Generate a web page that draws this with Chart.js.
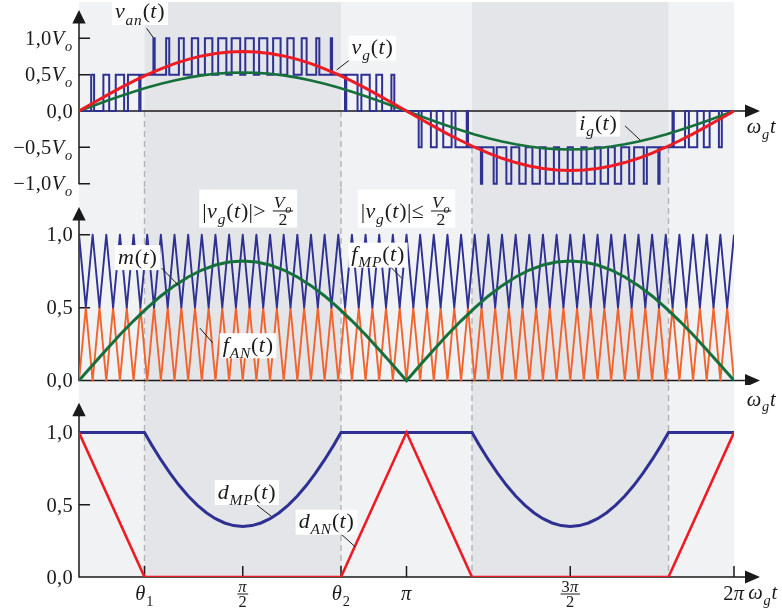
<!DOCTYPE html>
<html>
<head>
<meta charset="utf-8">
<script src="https://cdn.jsdelivr.net/npm/chart.js@4.4.0/dist/chart.umd.min.js"></script>
<style>
  html, body { margin: 0; padding: 0; background: #fff; }
  #wrap { position: relative; width: 782px; height: 614px; overflow: hidden; }
  #wrap canvas { position: absolute; left: 0; }
  #ink { z-index: 2; pointer-events: none; }
</style>
</head>
<body>
<div id="wrap">
  <canvas id="top" width="782" height="188" style="top:0"></canvas>
  <canvas id="mid" width="782" height="197" style="top:188px"></canvas>
  <canvas id="bot" width="782" height="229" style="top:385px"></canvas>
  <canvas id="ink" width="782" height="614" style="top:0"></canvas>
</div>
<script>
// angles in degrees of wg*t (0 .. 360)

// grid for smooth curves
const angle = [0, 7.5, 15, 22.5, 30, 37.5, 45, 52.5, 60, 67.5, 75, 82.5, 90, 97.5, 105, 112.5,
  120, 127.5, 135, 142.5, 150, 157.5, 165, 172.5, 180, 187.5, 195, 202.5, 210, 217.5, 225, 232.5,
  240, 247.5, 255, 262.5, 270, 277.5, 285, 292.5, 300, 307.5, 315, 322.5, 330, 337.5, 345, 352.5, 360];

// v_g(t) / Vo
const vg = [0, 0.107, 0.212, 0.314, 0.41, 0.499, 0.58, 0.651, 0.71, 0.758, 0.792, 0.813, 0.82,
  0.813, 0.792, 0.758, 0.71, 0.651, 0.58, 0.499, 0.41, 0.314, 0.212, 0.107, 0,
  -0.107, -0.212, -0.314, -0.41, -0.499, -0.58, -0.651, -0.71, -0.758, -0.792, -0.813, -0.82,
  -0.813, -0.792, -0.758, -0.71, -0.651, -0.58, -0.499, -0.41, -0.314, -0.212, -0.107, 0];

// i_g(t)
const ig = [0, 0.069, 0.137, 0.203, 0.265, 0.323, 0.375, 0.42, 0.459, 0.49, 0.512, 0.525, 0.53,
  0.525, 0.512, 0.49, 0.459, 0.42, 0.375, 0.323, 0.265, 0.203, 0.137, 0.069, 0,
  -0.069, -0.137, -0.203, -0.265, -0.323, -0.375, -0.42, -0.459, -0.49, -0.512, -0.525, -0.53,
  -0.525, -0.512, -0.49, -0.459, -0.42, -0.375, -0.323, -0.265, -0.203, -0.137, -0.069, 0];

// m(t)
const mt = [0, 0.107, 0.212, 0.314, 0.41, 0.499, 0.58, 0.651, 0.71, 0.758, 0.792, 0.813, 0.82,
  0.813, 0.792, 0.758, 0.71, 0.651, 0.58, 0.499, 0.41, 0.314, 0.212, 0.107, 0,
  0.107, 0.212, 0.314, 0.41, 0.499, 0.58, 0.651, 0.71, 0.758, 0.792, 0.813, 0.82,
  0.813, 0.792, 0.758, 0.71, 0.651, 0.58, 0.499, 0.41, 0.314, 0.212, 0.107, 0];

// carrier vertices
const carrierAngle = [
  0, 3.75, 7.5, 11.25, 15, 18.75, 22.5, 26.25, 30, 33.75, 37.5, 41.25, 45, 48.75, 52.5, 56.25,
  60, 63.75, 67.5, 71.25, 75, 78.75, 82.5, 86.25, 90, 93.75, 97.5, 101.25, 105, 108.75, 112.5, 116.25,
  120, 123.75, 127.5, 131.25, 135, 138.75, 142.5, 146.25, 150, 153.75, 157.5, 161.25, 165, 168.75, 172.5, 176.25,
  180, 183.75, 187.5, 191.25, 195, 198.75, 202.5, 206.25, 210, 213.75, 217.5, 221.25, 225, 228.75, 232.5, 236.25,
  240, 243.75, 247.5, 251.25, 255, 258.75, 262.5, 266.25, 270, 273.75, 277.5, 281.25, 285, 288.75, 292.5, 296.25,
  300, 303.75, 307.5, 311.25, 315, 318.75, 322.5, 326.25, 330, 333.75, 337.5, 341.25, 345, 348.75, 352.5, 356.25,
  360];
const fMP = [
  1, 0.5, 1, 0.5, 1, 0.5, 1, 0.5, 1, 0.5, 1, 0.5, 1, 0.5, 1, 0.5,
  1, 0.5, 1, 0.5, 1, 0.5, 1, 0.5, 1, 0.5, 1, 0.5, 1, 0.5, 1, 0.5,
  1, 0.5, 1, 0.5, 1, 0.5, 1, 0.5, 1, 0.5, 1, 0.5, 1, 0.5, 1, 0.5,
  1, 0.5, 1, 0.5, 1, 0.5, 1, 0.5, 1, 0.5, 1, 0.5, 1, 0.5, 1, 0.5,
  1, 0.5, 1, 0.5, 1, 0.5, 1, 0.5, 1, 0.5, 1, 0.5, 1, 0.5, 1, 0.5,
  1, 0.5, 1, 0.5, 1, 0.5, 1, 0.5, 1, 0.5, 1, 0.5, 1, 0.5, 1, 0.5,
  1];
const fAN = [
  0, 0.5, 0, 0.5, 0, 0.5, 0, 0.5, 0, 0.5, 0, 0.5, 0, 0.5, 0, 0.5,
  0, 0.5, 0, 0.5, 0, 0.5, 0, 0.5, 0, 0.5, 0, 0.5, 0, 0.5, 0, 0.5,
  0, 0.5, 0, 0.5, 0, 0.5, 0, 0.5, 0, 0.5, 0, 0.5, 0, 0.5, 0, 0.5,
  0, 0.5, 0, 0.5, 0, 0.5, 0, 0.5, 0, 0.5, 0, 0.5, 0, 0.5, 0, 0.5,
  0, 0.5, 0, 0.5, 0, 0.5, 0, 0.5, 0, 0.5, 0, 0.5, 0, 0.5, 0, 0.5,
  0, 0.5, 0, 0.5, 0, 0.5, 0, 0.5, 0, 0.5, 0, 0.5, 0, 0.5, 0, 0.5,
  0];

// v_an(t): switching instants and the level after each one
const vanAngle = [
  0, 6.7, 8.3, 13.4, 16.6, 20.2, 24.8, 26.9, 33.1, 33.8,
  40.9, 41.6, 47.9, 49.6, 54.9, 57.6, 62.0, 65.5, 69.2, 73.3,
  76.5, 81.0, 83.9, 88.6, 91.4, 96.1, 99.0, 103.5, 106.7, 110.8,
  114.5, 118.0, 122.4, 125.1, 130.4, 132.1, 138.4, 139.1, 146.2, 146.9,
  153.1, 155.2, 159.8, 163.4, 166.6, 171.7, 173.3,
  186.7, 188.3, 193.4, 196.6, 200.2, 204.8, 206.9, 213.1, 213.8,
  220.9, 221.6, 227.9, 229.6, 234.9, 237.6, 242.0, 245.5, 249.2, 253.3,
  256.5, 261.0, 263.9, 268.6, 271.4, 276.1, 279.0, 283.5, 286.7, 290.8,
  294.5, 298.0, 302.4, 305.1, 310.4, 312.1, 318.4, 319.1, 326.2, 326.9,
  333.1, 335.2, 339.8, 343.4, 346.6, 351.7, 353.3, 360];
const vanLevel = [
  0, 0.5, 0, 0.5, 0, 0.5, 0, 0.5, 0, 0.5,
  1, 0.5, 1, 0.5, 1, 0.5, 1, 0.5, 1, 0.5,
  1, 0.5, 1, 0.5, 1, 0.5, 1, 0.5, 1, 0.5,
  1, 0.5, 1, 0.5, 1, 0.5, 1, 0.5, 0, 0.5,
  0, 0.5, 0, 0.5, 0, 0.5, 0,
  -0.5, 0, -0.5, 0, -0.5, 0, -0.5, 0, -0.5,
  -1, -0.5, -1, -0.5, -1, -0.5, -1, -0.5, -1, -0.5,
  -1, -0.5, -1, -0.5, -1, -0.5, -1, -0.5, -1, -0.5,
  -1, -0.5, -1, -0.5, -1, -0.5, -1, -0.5, 0, -0.5,
  0, -0.5, 0, -0.5, 0, -0.5, 0, 0];

// duty cycles
const dMpAngle = [0, 36, 40, 45, 50, 55, 60, 65, 70, 75, 80, 85, 90, 95, 100, 105, 110, 115, 120, 125, 130, 135, 140, 144,
  216, 220, 225, 230, 235, 240, 245, 250, 255, 260, 265, 270, 275, 280, 285, 290, 295, 300, 305, 310, 315, 320, 324, 360];
const dMP = [1, 1, 0.913, 0.812, 0.719, 0.635, 0.561, 0.498, 0.445, 0.404, 0.374, 0.356, 0.35, 0.356, 0.374, 0.404, 0.445, 0.498, 0.561, 0.635, 0.719, 0.812, 0.913, 1,
  1, 0.913, 0.812, 0.719, 0.635, 0.561, 0.498, 0.445, 0.404, 0.374, 0.356, 0.35, 0.356, 0.374, 0.404, 0.445, 0.498, 0.561, 0.635, 0.719, 0.812, 0.913, 1, 1];
const dAnAngle = [0, 36, 144, 180, 216, 324, 360];
const dAN = [1, 0, 0, 1, 0, 0, 1];

// shaded intervals |vg| > Vo/2 and their borders
const shadeFrom = [36, 216];
const shadeTo = [144, 324];
const dashAt = [36, 144, 216, 324];

// ticks
const xTicks = [36, 90, 144, 180, 270, 360];
const xTickLabels = ['θ_1', 'π/2', 'θ_2', 'π', '3π/2', '2π'];
const yTicksTop = [1, 0.5, 0, -0.5, -1];
const yTickLabelsTop = ['1,0V_o', '0,5V_o', '0,0', '−0,5V_o', '−1,0V_o'];
const yTicksLow = [1, 0.5, 0];
const yTickLabelsLow = ['1,0', '0,5', '0,0'];

const NAVY = '#2e3192', RED = '#ed1c24', GREEN = '#16703b', ORANGE = '#f2642e';
const BG_LIGHT = '#f1f2f4', BG_DARK = '#e4e5e8', DASH = '#b3b4b8', INK = '#1a1a1a';
const FONT = '"Liberation Serif", "Times New Roman", serif';
const TICK_SIZE = 20.5, NOTE_SIZE = 22, FRAC = 0.8;

const ink = document.getElementById('ink').getContext('2d');

/* ---- tiny math-text helpers ---- */
function tokenize(src) {
    const out = [];
    for (let i = 0; i < src.length; i++) {
        const ch = src[i];
        if (ch === '_') {
            let s;
            if (src[i + 1] === '{') { const k = src.indexOf('}', i); s = src.slice(i + 2, k); i = k; }
            else { s = src[i + 1]; i += 1; }
            for (const c of s) out.push({ c, sub: true });
        } else out.push({ c: ch, sub: false });
    }
    return out;
}
const isItalic = c => /[A-Za-z\u03b1-\u03c9]/.test(c);
function setFont(ctx, c, sub, size) {
    ctx.font = (isItalic(c) ? 'italic ' : '') + (sub ? size * 0.7 : size) + 'px ' + FONT;
}
function advance(ctx, t, size) {
    return ctx.measureText(t.c).width + (isItalic(t.c) ? size * 0.04 : size * 0.015);
}
function textWidth(ctx, src, size) {
    let w = 0;
    for (const t of tokenize(src)) { setFont(ctx, t.c, t.sub, size); w += advance(ctx, t, size); }
    return w;
}
function drawText(ctx, src, x, base, size) {
    ctx.textAlign = 'left';
    ctx.textBaseline = 'alphabetic';
    for (const t of tokenize(src)) {
        setFont(ctx, t.c, t.sub, size);
        ctx.fillText(t.c, x, base + (t.sub ? size * 0.28 : 0));
        x += advance(ctx, t, size);
    }
    return x;
}
function fracWidth(ctx, f, size) {
    const fs = size * FRAC;
    return Math.max(textWidth(ctx, f.num, fs), textWidth(ctx, f.den, fs)) + 4;
}
function drawFrac(ctx, f, x, barY, size) {
    const fs = size * FRAC, w = fracWidth(ctx, f, size);
    drawText(ctx, f.num, x + (w - textWidth(ctx, f.num, fs)) / 2, barY - 2.5, fs);
    drawText(ctx, f.den, x + (w - textWidth(ctx, f.den, fs)) / 2, barY + fs * 0.7 + 1.5, fs);
    ctx.fillRect(x + 1, barY - 0.5, w - 2, 1);
    return x + w;
}
function segsWidth(ctx, segs, size) {
    let w = 0;
    for (const s of segs) w += typeof s === 'string' ? textWidth(ctx, s, size) : fracWidth(ctx, s, size);
    return w;
}
function drawSegs(ctx, segs, x, base, size) {
    for (const s of segs) {
        x = typeof s === 'string' ? drawText(ctx, s, x, base, size) : drawFrac(ctx, s, x, base - size * 0.3, size);
    }
}

/* ---- per-panel decoration ---- */
const panels = {
    top: {
        offset: 0, joinAbove: false, joinBelow: true, dashFrom: [0, 0, -0.5, -0.5],
        arrowTip: 1.39, axisEnd: -1, yTicks: yTicksTop, yLabels: yTickLabelsTop,
        axisTexts: [{ text: 'ω_gt', dx: 12.7, ref: 'zero', dy: 22.3 }],
        notes: [
            { segs: ['v_{an}(t)'], at: [33.5, 1.356], leader: [[37.2, 1.138], [40.8, 1.01]] },
            { segs: ['v_g(t)'], at: [161.2, 0.863], leader: [[151.1, 0.748], [141.6, 0.565]] },
            { segs: ['i_g(t)'], at: [285.4, -0.18], leader: [[300.1, -0.205], [308.3, -0.397]] }
        ]
    },
    mid: {
        offset: 188, joinAbove: true, joinBelow: true,
        arrowTip: 1.19, axisEnd: 0, yTicks: yTicksLow, yLabels: yTickLabelsLow,
        axisTexts: [{ text: 'ω_gt', dx: 12.7, ref: 'zero', dy: 25 }],
        notes: [
            { segs: ['|v_g(t)|> ', { num: 'V_o', den: '2' }], at: [93, 1.179] },
            { segs: ['|v_g(t)|≤ ', { num: 'V_o', den: '2' }], at: [180, 1.179] },
            { segs: ['m(t)'], at: [32.2, 0.843], leader: [[45.4, 0.771], [54.6, 0.654]] },
            { segs: ['f_{MP}(t)'], at: [164.3, 0.86], leader: [[169.1, 0.805], [177.4, 0.702]] },
            { segs: ['f_{AN}(t)'], at: [92.9, 0.239], leader: [[66.5, 0.359], [73.6, 0.257]] }
        ]
    },
    bot: {
        offset: 385, joinAbove: true, joinBelow: false,
        arrowTip: 1.207, axisEnd: 0, yTicks: yTicksLow, yLabels: yTickLabelsLow, xTicks: true,
        axisTexts: [{ text: 'ω_gt', dx: 14.3, ref: 'zero', dy: 22.3 }],
        notes: [
            { segs: ['d_{MP}(t)'], at: [92.2, 0.585], leader: [[97.7, 0.499], [105.9, 0.418]] },
            { segs: ['d_{AN}(t)'], at: [136, 0.379], leader: [[143.4, 0.305], [151.7, 0.21]] }
        ]
    }
};

const panelPlugin = {
    id: 'panel',
    beforeDatasetsDraw(chart) {
        const p = panels[chart.canvas.id];
        const { ctx, chartArea: a, scales: { x, y } } = chart;
        const top = p.joinAbove ? 0 : a.top;
        const bottom = p.joinBelow ? chart.height : a.bottom;
        const xl = x.getPixelForValue(0), xr = x.getPixelForValue(360);
        ctx.save();
        ctx.fillStyle = BG_LIGHT;
        ctx.fillRect(xl, top, xr - xl, bottom - top);
        ctx.fillStyle = BG_DARK;
        shadeFrom.forEach((s, i) => {
            const l = x.getPixelForValue(s), r = x.getPixelForValue(shadeTo[i]);
            ctx.fillRect(l, top, r - l, bottom - top);
        });

        // dashed borders
        ctx.strokeStyle = DASH;
        ctx.lineWidth = 1.4;
        ctx.setLineDash([6, 4]);
        dashAt.forEach((d, i) => {
            const px = x.getPixelForValue(d);
            const from = p.dashFrom ? y.getPixelForValue(p.dashFrom[i]) : top;
            ctx.beginPath(); ctx.moveTo(px, from); ctx.lineTo(px, bottom); ctx.stroke();
        });
        ctx.setLineDash([]);

        // axes with arrows
        const y0 = y.getPixelForValue(0);
        const yTip = y.getPixelForValue(p.arrowTip);
        const xTip = a.right + 26;
        ctx.strokeStyle = INK;
        ctx.fillStyle = INK;
        ctx.lineWidth = 1.5;
        ctx.beginPath();
        ctx.moveTo(xl, yTip + 10); ctx.lineTo(xl, y.getPixelForValue(p.axisEnd) + 0.7);
        ctx.moveTo(xl - 0.7, y0); ctx.lineTo(xTip - 10, y0);
        ctx.stroke();
        ctx.beginPath();
        ctx.moveTo(xl, yTip); ctx.lineTo(xl - 6.7, yTip + 13.5); ctx.lineTo(xl + 6.7, yTip + 13.5); ctx.closePath();
        ctx.moveTo(xTip, y0); ctx.lineTo(xTip - 15, y0 - 6.5); ctx.lineTo(xTip - 15, y0 + 6.5); ctx.closePath();
        ctx.fill();

        ctx.beginPath();
        p.yTicks.forEach(v => {
            if (v === 0) return;
            const py = y.getPixelForValue(v);
            ctx.moveTo(xl, py); ctx.lineTo(xl + 11, py);
        });
        if (p.xTicks) {
            xTicks.forEach(v => {
                const px = x.getPixelForValue(v);
                ctx.moveTo(px, y0); ctx.lineTo(px, y0 - 11);
            });
        }
        ctx.stroke();
        ctx.restore();
    },
    // all text goes on the page-wide overlay so nothing is cut at panel borders
    afterDatasetsDraw(chart) {
        const p = panels[chart.canvas.id];
        const { chartArea: a, scales: { x, y } } = chart;
        const ctx = ink;
        const xl = x.getPixelForValue(0);
        const y0 = y.getPixelForValue(0);
        ctx.save();
        ctx.translate(0, p.offset);
        ctx.fillStyle = INK;

        // y tick labels
        p.yTicks.forEach((v, i) => {
            const w = textWidth(ctx, p.yLabels[i], TICK_SIZE);
            drawText(ctx, p.yLabels[i], xl - 6 - w, y.getPixelForValue(v) + 6.8, TICK_SIZE);
        });

        // x tick labels
        if (p.xTicks) {
            xTicks.forEach((v, i) => {
                const px = x.getPixelForValue(v);
                const lab = xTickLabels[i];
                if (lab.includes('/')) {
                    const [num, den] = lab.split('/');
                    const f = { num, den };
                    drawFrac(ctx, f, px - fracWidth(ctx, f, TICK_SIZE) / 2, y0 + 17, TICK_SIZE);
                } else {
                    drawText(ctx, lab, px - textWidth(ctx, lab, TICK_SIZE) / 2, y0 + 23, TICK_SIZE);
                }
            });
        }

        // axis names
        p.axisTexts.forEach(t => {
            const base = (t.ref === 'top' ? a.top : y0) + t.dy;
            drawText(ctx, t.text, a.right + t.dx, base, TICK_SIZE);
        });

        // annotations: leader line, white box, text
        p.notes.forEach(n => {
            const size = NOTE_SIZE;
            const hasFrac = n.segs.some(s => typeof s !== 'string');
            const cx = x.getPixelForValue(n.at[0]), cy = y.getPixelForValue(n.at[1]);
            if (n.leader) {
                ctx.strokeStyle = INK;
                ctx.lineWidth = 1;
                ctx.beginPath();
                ctx.moveTo(x.getPixelForValue(n.leader[0][0]), y.getPixelForValue(n.leader[0][1]));
                ctx.lineTo(x.getPixelForValue(n.leader[1][0]), y.getPixelForValue(n.leader[1][1]));
                ctx.stroke();
            }
            const w = segsWidth(ctx, n.segs, size) + 6;
            const h = hasFrac ? 38 : 25;
            ctx.fillStyle = '#ffffff';
            ctx.fillRect(cx - w / 2, cy - h / 2, w, h);
            ctx.fillStyle = INK;
            drawSegs(ctx, n.segs, cx - w / 2 + 3, cy + (hasFrac ? 9 : 6), size);
        });
        ctx.restore();
    }
};

function pts(xs, ys) {
    return xs.map((v, i) => ({ x: v, y: ys[i] }));
}
function curve(data, color, width, extra) {
    return Object.assign({
        data, borderColor: color, borderWidth: width, pointRadius: 0,
        fill: false, tension: 0, borderJoinStyle: 'miter'
    }, extra || {});
}

function makeChart(id, yMin, yMax, padding, datasets) {
    return new Chart(document.getElementById(id), {
        type: 'line',
        data: { datasets },
        options: {
            responsive: false,
            animation: false,
            devicePixelRatio: 1,
            events: [],
            layout: { padding: Object.assign({ left: 79, right: 48, top: 0, bottom: 0 }, padding) },
            plugins: { legend: { display: false }, tooltip: { enabled: false } },
            scales: {
                x: { type: 'linear', min: 0, max: 360, display: false },
                y: { type: 'linear', min: yMin, max: yMax, display: false }
            },
            elements: { point: { radius: 0 } }
        },
        plugins: [panelPlugin]
    });
}

makeChart('top', -1.06, 1.5, { top: 2 }, [
    curve(pts(angle, vg), RED, 3),
    curve(pts(angle, ig), GREEN, 2.6),
    curve(pts(vanAngle, vanLevel), NAVY, 2, { stepped: true })
]);

makeChart('mid', -0.03, 1.32, {}, [
    curve(pts(angle, mt), GREEN, 3),
    curve(pts(carrierAngle, fMP), NAVY, 1.9, { borderJoinStyle: 'round' }),
    curve(pts(carrierAngle, fAN), ORANGE, 1.9, { borderJoinStyle: 'round' })
]);

makeChart('bot', 0, 1.26, { top: 10, bottom: 37 }, [
    curve(pts(dAnAngle, dAN), RED, 2.6),
    curve(pts(dMpAngle, dMP), NAVY, 3)
]);
</script>
</body>
</html>
